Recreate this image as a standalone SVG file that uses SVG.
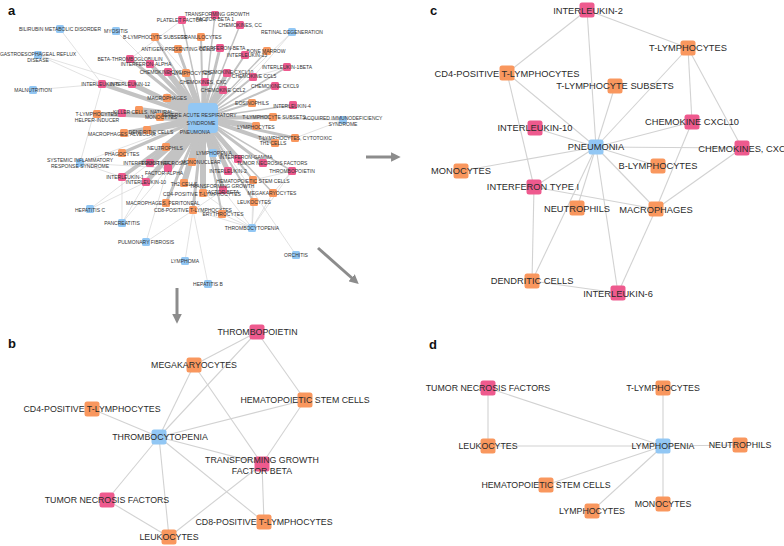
<svg xmlns="http://www.w3.org/2000/svg" width="784" height="546" viewBox="0 0 784 546">
<defs>
<style>
.bg{fill:#ffffff}
.o{fill:#F9975E}
.p{fill:#EE5A8E}
.b{fill:#92C7F4}
.e{stroke:#d2d2d2;stroke-width:1.1;fill:none}
.ea{stroke:#d6d6d6;stroke-width:0.7;fill:none}
.et{stroke:#c3c3c3;fill:none;stroke-linecap:round}
.tc{font-family:"Liberation Sans",Arial,sans-serif;font-size:9.3px;fill:#2a2a2a;text-anchor:middle}
.tb{font-family:"Liberation Sans",Arial,sans-serif;font-size:8.8px;fill:#2a2a2a;text-anchor:middle}
.ta{font-family:"Liberation Sans",Arial,sans-serif;font-size:5px;fill:#333;text-anchor:middle}
.lbl{font-family:"Liberation Sans",Arial,sans-serif;font-size:13px;font-weight:bold;fill:#111}
.arr{stroke:#8c8c8c;stroke-width:3;fill:none}
</style>
<marker id="ah" viewBox="0 0 10 10" refX="2" refY="5" markerWidth="3.2" markerHeight="3.2" orient="auto">
<path d="M0,0 L10,5 L0,10 z" fill="#8c8c8c"/>
</marker>
</defs>
<rect class="bg" x="0" y="0" width="784" height="546"/>

<text class="lbl" x="8" y="15">a</text>
<text class="lbl" x="8" y="348">b</text>
<text class="lbl" x="430" y="15">c</text>
<text class="lbl" x="429" y="349">d</text>

<g id="arrows">
<line class="arr" x1="366" y1="157" x2="393" y2="157" marker-end="url(#ah)"/>
<line class="arr" x1="177" y1="288" x2="177" y2="316" marker-end="url(#ah)"/>
<line class="arr" x1="318" y1="248" x2="353" y2="279" marker-end="url(#ah)"/>
</g>

<!-- PANEL A -->
<g id="connectors-a">
<g class="ea">
<line x1="60" y1="29" x2="102" y2="84"/>
<line x1="38" y1="55" x2="102" y2="84"/>
<line x1="38" y1="55" x2="132" y2="84"/>
<line x1="33" y1="90" x2="102" y2="84"/>
<line x1="116" y1="31" x2="203" y2="118"/>
<line x1="292" y1="32" x2="203" y2="118"/>
<line x1="292" y1="32" x2="253" y2="77"/>
<line x1="343" y1="120" x2="203" y2="118"/>
<line x1="343" y1="120" x2="295" y2="138"/>
<line x1="343" y1="120" x2="273" y2="117"/>
<line x1="80" y1="163" x2="122" y2="177"/>
<line x1="80" y1="163" x2="102" y2="84"/>
<line x1="80" y1="163" x2="168" y2="168"/>
<line x1="80" y1="163" x2="203" y2="118"/>
<line x1="90" y1="209" x2="146" y2="182"/>
<line x1="90" y1="209" x2="150" y2="163"/>
<line x1="122" y1="223" x2="168" y2="168"/>
<line x1="122" y1="223" x2="146" y2="182"/>
<line x1="122" y1="223" x2="122" y2="177"/>
<line x1="146" y1="242" x2="168" y2="168"/>
<line x1="146" y1="242" x2="223" y2="190"/>
<line x1="185" y1="261" x2="193" y2="210"/>
<line x1="208" y1="284" x2="193" y2="210"/>
<line x1="252" y1="228" x2="254" y2="202"/>
<line x1="252" y1="228" x2="273" y2="193"/>
<line x1="252" y1="228" x2="223" y2="190"/>
<line x1="252" y1="228" x2="253" y2="180"/>
<line x1="252" y1="228" x2="292" y2="171"/>
<line x1="252" y1="228" x2="193" y2="210"/>
<line x1="252" y1="228" x2="203" y2="193"/>
<line x1="252" y1="228" x2="222" y2="214"/>
<line x1="296" y1="255" x2="203" y2="118"/>
<line x1="292" y1="171" x2="273" y2="193"/>
<line x1="292" y1="171" x2="253" y2="180"/>
<line x1="102" y1="84" x2="132" y2="84"/>
<line x1="130" y1="59" x2="182" y2="20"/>
<line x1="155" y1="37" x2="186" y2="73"/>
<line x1="287" y1="67" x2="253" y2="77"/>
</g>
<g class="et">
<line x1="203" y1="118" x2="168" y2="72" stroke-width="6"/>
<line x1="203" y1="118" x2="150" y2="64" stroke-width="4"/>
<line x1="203" y1="118" x2="130" y2="59" stroke-width="3"/>
<line x1="203" y1="118" x2="132" y2="84" stroke-width="5"/>
<line x1="203" y1="118" x2="102" y2="84" stroke-width="4"/>
<line x1="203" y1="118" x2="167" y2="98" stroke-width="9"/>
<line x1="203" y1="118" x2="139" y2="110" stroke-width="6"/>
<line x1="203" y1="118" x2="97" y2="114" stroke-width="4"/>
<line x1="203" y1="118" x2="122" y2="113" stroke-width="4"/>
<line x1="203" y1="118" x2="160" y2="117" stroke-width="7"/>
<line x1="203" y1="118" x2="124" y2="133" stroke-width="4"/>
<line x1="203" y1="118" x2="147" y2="130" stroke-width="7"/>
<line x1="203" y1="118" x2="166" y2="147" stroke-width="8"/>
<line x1="203" y1="118" x2="122" y2="153" stroke-width="3"/>
<line x1="203" y1="118" x2="150" y2="163" stroke-width="6"/>
<line x1="203" y1="118" x2="168" y2="168" stroke-width="9"/>
<line x1="203" y1="118" x2="122" y2="177" stroke-width="4"/>
<line x1="203" y1="118" x2="146" y2="182" stroke-width="5"/>
<line x1="203" y1="118" x2="184" y2="183" stroke-width="6"/>
<line x1="203" y1="118" x2="203" y2="193" stroke-width="6"/>
<line x1="203" y1="118" x2="192" y2="162" stroke-width="8"/>
<line x1="203" y1="118" x2="213" y2="153" stroke-width="7"/>
<line x1="203" y1="118" x2="228" y2="171" stroke-width="5"/>
<line x1="203" y1="118" x2="238" y2="159" stroke-width="5"/>
<line x1="203" y1="118" x2="223" y2="190" stroke-width="4"/>
<line x1="203" y1="118" x2="186" y2="73" stroke-width="6"/>
<line x1="203" y1="118" x2="205" y2="82" stroke-width="5"/>
<line x1="203" y1="118" x2="223" y2="90" stroke-width="5"/>
<line x1="203" y1="118" x2="227" y2="73" stroke-width="4"/>
<line x1="203" y1="118" x2="178" y2="49" stroke-width="3"/>
<line x1="203" y1="118" x2="220" y2="48" stroke-width="3"/>
<line x1="203" y1="118" x2="201" y2="37" stroke-width="2"/>
<line x1="203" y1="118" x2="273" y2="117" stroke-width="4"/>
<line x1="203" y1="118" x2="256" y2="126" stroke-width="5"/>
<line x1="203" y1="118" x2="295" y2="138" stroke-width="3"/>
<line x1="203" y1="118" x2="275" y2="143" stroke-width="4"/>
<line x1="203" y1="118" x2="263" y2="163" stroke-width="3"/>
<line x1="203" y1="118" x2="193" y2="210" stroke-width="3"/>
<line x1="203" y1="118" x2="166" y2="203" stroke-width="3"/>
<line x1="203" y1="118" x2="252" y2="103" stroke-width="2"/>
<line x1="203" y1="118" x2="293" y2="105" stroke-width="1.5"/>
<line x1="203" y1="118" x2="253" y2="77" stroke-width="2"/>
<line x1="203" y1="118" x2="275" y2="86" stroke-width="2"/>
<line x1="203" y1="118" x2="245" y2="55" stroke-width="2"/>
<line x1="203" y1="118" x2="287" y2="67" stroke-width="1.5"/>
<line x1="203" y1="118" x2="182" y2="20" stroke-width="1.5"/>
<line x1="203" y1="118" x2="215" y2="15" stroke-width="1.5"/>
<line x1="203" y1="118" x2="240" y2="25" stroke-width="1.5"/>
<line x1="203" y1="118" x2="267" y2="51" stroke-width="1.5"/>
<line x1="203" y1="118" x2="155" y2="37" stroke-width="2"/>
<line x1="203" y1="118" x2="254" y2="202" stroke-width="2"/>
<line x1="203" y1="118" x2="253" y2="180" stroke-width="2"/>
<line x1="203" y1="118" x2="292" y2="171" stroke-width="1.5"/>
<line x1="203" y1="118" x2="273" y2="193" stroke-width="1.5"/>
<line x1="203" y1="118" x2="222" y2="214" stroke-width="2"/>
</g>
</g>

<g id="nodes-a">
<g id="a-bilirubin"><rect class="b" x="56" y="25" width="8" height="8" rx="1.5"/><text class="ta" x="60" y="30.8">BILIRUBIN METABOLIC DISORDER</text></g>
<g id="a-myositis"><rect class="b" x="112" y="27" width="8" height="8" rx="1.5"/><text class="ta" x="116" y="32.8">MYOSITIS</text></g>
<g id="a-gerd"><rect class="b" x="34" y="51" width="8" height="8" rx="1.5"/><text class="ta" x="38" y="55.8">GASTROESOPHAGEAL REFLUX</text><text class="ta" x="38" y="62.3">DISEASE</text></g>
<g id="a-malnutrition"><rect class="b" x="29" y="86" width="8" height="8" rx="1.5"/><text class="ta" x="33" y="91.8">MALNUTRITION</text></g>
<g id="a-bls"><rect class="o" x="151" y="33" width="8" height="8" rx="1.5"/><text class="ta" x="155" y="38.8">B-LYMPHOCYTE SUBSETS</text></g>
<g id="a-pf4"><rect class="p" x="178" y="16" width="8" height="8" rx="1.5"/><text class="ta" x="182" y="21.8">PLATELET FACTOR 4</text></g>
<g id="a-tgfb1"><rect class="p" x="211" y="11" width="8" height="8" rx="1.5"/><text class="ta" x="217" y="15.8">TRANSFORMING GROWTH</text><text class="ta" x="215" y="21.3">FACTOR BETA 1</text></g>
<g id="a-chemcc"><rect class="p" x="236" y="21" width="8" height="8" rx="1.5"/><text class="ta" x="240" y="26.8">CHEMOKINES, CC</text></g>
<g id="a-retinal"><rect class="b" x="288" y="28" width="8" height="8" rx="1.5"/><text class="ta" x="292" y="33.8">RETINAL DEGENERATION</text></g>
<g id="a-gran"><rect class="o" x="197" y="33" width="8" height="8" rx="1.5"/><text class="ta" x="201" y="38.8">GRANULOCYTES</text></g>
<g id="a-apc"><rect class="o" x="174" y="45" width="8" height="8" rx="1.5"/><text class="ta" x="178" y="50.8">ANTIGEN-PRESENTING CELLS</text></g>
<g id="a-ifnb"><rect class="p" x="216" y="44" width="8" height="8" rx="1.5"/><text class="ta" x="222" y="49.8">INTERFERON-BETA</text></g>
<g id="a-bm"><rect class="o" x="263" y="47" width="8" height="8" rx="1.5"/><text class="ta" x="266" y="52.8">BONE MARROW</text></g>
<g id="a-il13"><rect class="p" x="241" y="51" width="8" height="8" rx="1.5"/><text class="ta" x="247" y="56.8">INTERLEUKIN-13</text></g>
<g id="a-il1b"><rect class="p" x="283" y="63" width="8" height="8" rx="1.5"/><text class="ta" x="287" y="68.8">INTERLEUKIN-1BETA</text></g>
<g id="a-btg"><rect class="p" x="126" y="55" width="8" height="8" rx="1.5"/><text class="ta" x="130" y="60.8">BETA-THROMBOGLOBULIN</text></g>
<g id="a-ifna"><rect class="p" x="146" y="60" width="8" height="8" rx="1.5"/><text class="ta" x="146" y="65.8">INTERFERON-ALPHA</text></g>
<g id="a-cxcl12"><rect class="p" x="164" y="68" width="8" height="8" rx="1.5"/><text class="ta" x="165" y="73.8">CHEMOKINE CXCL12</text></g>
<g id="a-tly"><rect class="o" x="182" y="69" width="8" height="8" rx="1.5"/><text class="ta" x="190" y="74.8">T-LYMPHOCYTES</text></g>
<g id="a-cxcl10"><rect class="p" x="223" y="69" width="8" height="8" rx="1.5"/><text class="ta" x="228" y="74.3">CHEMOKINE CXCL10</text></g>
<g id="a-ccl5"><rect class="p" x="249" y="73" width="8" height="8" rx="1.5"/><text class="ta" x="254" y="78.3">CHEMOKINE CCL5</text></g>
<g id="a-cxc"><rect class="p" x="201" y="78" width="8" height="8" rx="1.5"/><text class="ta" x="203" y="84.1">CHEMOKINES, CXC</text></g>
<g id="a-ccl2"><rect class="p" x="219" y="86" width="8" height="8" rx="1.5"/><text class="ta" x="223" y="91.8">CHEMOKINE CCL2</text></g>
<g id="a-cxcl9"><rect class="p" x="271" y="82" width="8" height="8" rx="1.5"/><text class="ta" x="275" y="87.8">CHEMOKINE CXCL9</text></g>
<g id="a-il6"><rect class="p" x="98" y="80" width="8" height="8" rx="1.5"/><text class="ta" x="100" y="86.1">INTERLEUKIN-6</text></g>
<g id="a-il12"><rect class="p" x="128" y="80" width="8" height="8" rx="1.5"/><text class="ta" x="130" y="86.1">INTERLEUKIN-12</text></g>
<g id="a-mac"><rect class="o" x="163" y="94" width="8" height="8" rx="1.5"/><text class="ta" x="167" y="99.8">MACROPHAGES</text></g>
<g id="a-eos"><rect class="o" x="248" y="99" width="8" height="8" rx="1.5"/><text class="ta" x="252" y="105">EOSINOPHILS</text></g>
<g id="a-il4"><rect class="p" x="289" y="101" width="8" height="8" rx="1.5"/><text class="ta" x="292" y="107.8">INTERLEUKIN-4</text></g>
<g id="a-tls"><rect class="o" x="269" y="113" width="8" height="8" rx="1.5"/><text class="ta" x="274" y="118.5">T-LYMPHOCYTE SUBSETS</text></g>
<g id="a-lym"><rect class="o" x="252" y="122" width="8" height="8" rx="1.5"/><text class="ta" x="256" y="128.5">LYMPHOCYTES</text></g>
<g id="a-aids"><rect class="b" x="339" y="116" width="8" height="8" rx="1.5"/><text class="ta" x="343" y="119.8">ACQUIRED IMMUNODEFICIENCY</text><text class="ta" x="343" y="126">SYNDROME</text></g>
<g id="a-tlh"><rect class="o" x="93" y="110" width="8" height="8" rx="1.5"/><text class="ta" x="97" y="116">T-LYMPHOCYTES,</text><text class="ta" x="97" y="121.8">HELPER-INDUCER</text></g>
<g id="a-pk1"><rect class="p" x="118" y="109" width="8" height="8" rx="1.5"/></g>
<g id="a-nk"><rect class="o" x="135" y="106" width="8" height="8" rx="1.5"/><text class="ta" x="143" y="113.5">KILLER CELLS, NATURAL</text></g>
<g id="a-mono"><rect class="o" x="156" y="113" width="8" height="8" rx="1.5"/><text class="ta" x="161" y="119.1">MONOCYTES</text></g>
<g id="a-alv"><rect class="o" x="120" y="129" width="8" height="8" rx="1.5"/><text class="ta" x="122" y="135.8">MACROPHAGES, ALVEOLAR</text></g>
<g id="a-dc"><rect class="o" x="143" y="126" width="8" height="8" rx="1.5"/><text class="ta" x="151" y="133.5">DENDRITIC CELLS</text></g>
<g id="a-tcyt"><rect class="o" x="291" y="134" width="8" height="8" rx="1.5"/><text class="ta" x="295" y="140.1">T-LYMPHOCYTES, CYTOTOXIC</text></g>
<g id="a-th1"><rect class="o" x="271" y="139" width="8" height="8" rx="1.5"/><text class="ta" x="273" y="145.1">TH1 CELLS</text></g>
<g id="a-neu"><rect class="o" x="162" y="143" width="8" height="8" rx="1.5"/><text class="ta" x="165" y="150">NEUTROPHILS</text></g>
<g id="a-phag"><rect class="o" x="118" y="149" width="8" height="8" rx="1.5"/><text class="ta" x="122" y="155.6">PHAGOCYTES</text></g>
<g id="a-sirs"><rect class="b" x="76" y="159" width="8" height="8" rx="1.5"/><text class="ta" x="80" y="161.8">SYSTEMIC INFLAMMATORY</text><text class="ta" x="80" y="167.8">RESPONSE SYNDROME</text></g>
<g id="a-lp"><rect class="b" x="209" y="149" width="8" height="8" rx="1.5"/><text class="ta" x="214" y="155.1">LYMPHOPENIA</text></g>
<g id="a-ifng"><rect class="p" x="234" y="155" width="8" height="8" rx="1.5"/><text class="ta" x="246" y="159.1">INTERFERON-GAMMA</text></g>
<g id="a-ifn1"><rect class="p" x="146" y="159" width="8" height="8" rx="1.5"/><text class="ta" x="148" y="165">INTERFERON TYPE I</text></g>
<g id="a-tnfa"><rect class="p" x="164" y="164" width="8" height="8" rx="1.5"/><text class="ta" x="164" y="164.5">TUMOR NECROSIS</text><text class="ta" x="164" y="174.5">FACTOR-ALPHA</text></g>
<g id="a-mn"><rect class="o" x="188" y="158" width="8" height="8" rx="1.5"/><text class="ta" x="201" y="164.1">MONONUCLEAR</text></g>
<g id="a-tnf"><rect class="p" x="259" y="159" width="8" height="8" rx="1.5"/><text class="ta" x="272" y="165.1">TUMOR NECROSIS FACTORS</text></g>
<g id="a-tpo"><rect class="p" x="288" y="167" width="8" height="8" rx="1.5"/><text class="ta" x="292" y="172.8">THROMBOPOIETIN</text></g>
<g id="a-il2"><rect class="p" x="224" y="167" width="8" height="8" rx="1.5"/><text class="ta" x="228" y="172.8">INTERLEUKIN-2</text></g>
<g id="a-il1"><rect class="p" x="118" y="173" width="8" height="8" rx="1.5"/><text class="ta" x="125" y="178.8">INTERLEUKIN-1</text></g>
<g id="a-il10"><rect class="p" x="142" y="178" width="8" height="8" rx="1.5"/><text class="ta" x="146" y="183.8">INTERLEUKIN-10</text></g>
<g id="a-th2"><rect class="o" x="180" y="179" width="8" height="8" rx="1.5"/><text class="ta" x="184" y="185.6">TH2 CELLS</text></g>
<g id="a-hsc"><rect class="o" x="249" y="176" width="8" height="8" rx="1.5"/><text class="ta" x="253" y="182.5">HEMATOPOIETIC STEM CELLS</text></g>
<g id="a-tgf"><rect class="p" x="219" y="186" width="8" height="8" rx="1.5"/><text class="ta" x="222" y="188">TRANSFORMING GROWTH</text><text class="ta" x="222" y="193.6">FACTOR BETA</text></g>
<g id="a-mk"><rect class="o" x="269" y="189" width="8" height="8" rx="1.5"/><text class="ta" x="272" y="194.8">MEGAKARYOCYTES</text></g>
<g id="a-cd4"><rect class="o" x="199" y="189" width="8" height="8" rx="1.5"/><text class="ta" x="202" y="195.8">CD4-POSITIVE T-LYMPHOCYTES</text></g>
<g id="a-leu"><rect class="o" x="250" y="198" width="8" height="8" rx="1.5"/><text class="ta" x="254" y="203.8">LEUKOCYTES</text></g>
<g id="a-perit"><rect class="o" x="162" y="199" width="8" height="8" rx="1.5"/><text class="ta" x="163" y="204.8">MACROPHAGES, PERITONEAL</text></g>
<g id="a-cd8"><rect class="o" x="189" y="206" width="8" height="8" rx="1.5"/><text class="ta" x="193" y="211.8">CD8-POSITIVE T-LYMPHOCYTES</text></g>
<g id="a-ery"><rect class="o" x="218" y="210" width="8" height="8" rx="1.5"/><text class="ta" x="223" y="215.8">ERYTHROCYTES</text></g>
<g id="a-hepc"><rect class="b" x="86" y="205" width="8" height="8" rx="1.5"/><text class="ta" x="90" y="211.5">HEPATITIS C</text></g>
<g id="a-panc"><rect class="b" x="118" y="219" width="8" height="8" rx="1.5"/><text class="ta" x="122" y="224.8">PANCREATITIS</text></g>
<g id="a-pf"><rect class="b" x="142" y="238" width="8" height="8" rx="1.5"/><text class="ta" x="146" y="243.8">PULMONARY FIBROSIS</text></g>
<g id="a-tcp"><rect class="b" x="248" y="224" width="8" height="8" rx="1.5"/><text class="ta" x="252" y="230.3">THROMBOCYTOPENIA</text></g>
<g id="a-lymphoma"><rect class="b" x="181" y="257" width="8" height="8" rx="1.5"/><text class="ta" x="185" y="262.8">LYMPHOMA</text></g>
<g id="a-hepb"><rect class="b" x="204" y="280" width="8" height="8" rx="1.5"/><text class="ta" x="208" y="285.8">HEPATITIS B</text></g>
<g id="a-orchitis"><rect class="b" x="292" y="251" width="8" height="8" rx="1.5"/><text class="ta" x="296" y="256.8">ORCHITIS</text></g>
<g id="a-sars"><rect class="b" x="188" y="103" width="30" height="30" rx="4"/><text class="ta" x="199" y="117">SEVERE ACUTE RESPIRATORY</text><text class="ta" x="201" y="124.5">SYNDROME</text><text class="ta" x="195" y="134">PNEUMONIA</text></g>
</g>

<!-- PANEL B -->
<g id="connectors-b" class="e">
<line x1="257" y1="332" x2="194" y2="365"/>
<line x1="257" y1="332" x2="159" y2="437"/>
<line x1="257" y1="332" x2="305" y2="400"/>
<line x1="194" y1="365" x2="159" y2="437"/>
<line x1="194" y1="365" x2="262" y2="464"/>
<line x1="305" y1="400" x2="159" y2="437"/>
<line x1="305" y1="400" x2="262" y2="464"/>
<line x1="92" y1="409" x2="159" y2="437"/>
<line x1="159" y1="437" x2="262" y2="464"/>
<line x1="159" y1="437" x2="107" y2="500"/>
<line x1="159" y1="437" x2="169" y2="537"/>
<line x1="159" y1="437" x2="264" y2="522"/>
<line x1="107" y1="500" x2="169" y2="537"/>
<line x1="262" y1="464" x2="169" y2="537"/>
<line x1="262" y1="464" x2="264" y2="522"/>
</g>
<g id="nodes-b">
<g id="b-tpo"><rect class="p" x="249.5" y="324.5" width="15" height="15" rx="2.5"/><text class="tb" x="257.5" y="335.3">THROMBOPOIETIN</text></g>
<g id="b-mk"><rect class="o" x="186.5" y="357.5" width="15" height="15" rx="2.5"/><text class="tb" x="194" y="368.3">MEGAKARYOCYTES</text></g>
<g id="b-hsc"><rect class="o" x="297.5" y="392.5" width="15" height="15" rx="2.5"/><text class="tb" x="305" y="403.3">HEMATOPOIETIC STEM CELLS</text></g>
<g id="b-cd4"><rect class="o" x="84.5" y="401.5" width="15" height="15" rx="2.5"/><text class="tb" x="92" y="412.3">CD4-POSITIVE T-LYMPHOCYTES</text></g>
<g id="b-tcp"><rect class="b" x="151.5" y="429.5" width="15" height="15" rx="2.5"/><text class="tb" x="160" y="440.3">THROMBOCYTOPENIA</text></g>
<g id="b-tgf"><rect class="p" x="254.5" y="456.5" width="15" height="15" rx="2.5"/><text class="tb" x="262" y="462.5">TRANSFORMING GROWTH</text><text class="tb" x="262" y="474">FACTOR BETA</text></g>
<g id="b-tnf"><rect class="p" x="99.5" y="492.5" width="15" height="15" rx="2.5"/><text class="tb" x="107" y="503.3">TUMOR NECROSIS FACTORS</text></g>
<g id="b-cd8"><rect class="o" x="256.5" y="514.5" width="15" height="15" rx="2.5"/><text class="tb" x="264" y="525.3">CD8-POSITIVE T-LYMPHOCYTES</text></g>
<g id="b-leu"><rect class="o" x="161.5" y="529.5" width="15" height="15" rx="2.5"/><text class="tb" x="169" y="540.3">LEUKOCYTES</text></g>
</g>

<!-- PANEL C -->
<g id="connectors-c" class="e">
<line x1="587" y1="10" x2="507" y2="73"/>
<line x1="587" y1="10" x2="688" y2="48"/>
<line x1="587" y1="10" x2="596" y2="147"/>
<line x1="688" y1="48" x2="596" y2="147"/>
<line x1="688" y1="48" x2="692" y2="122"/>
<line x1="688" y1="48" x2="742" y2="148"/>
<line x1="507" y1="73" x2="596" y2="147"/>
<line x1="507" y1="73" x2="534" y2="187"/>
<line x1="615" y1="86" x2="596" y2="147"/>
<line x1="535" y1="128" x2="596" y2="147"/>
<line x1="692" y1="122" x2="596" y2="147"/>
<line x1="692" y1="122" x2="656" y2="209"/>
<line x1="596" y1="147" x2="742" y2="148"/>
<line x1="596" y1="147" x2="658" y2="166"/>
<line x1="596" y1="147" x2="461" y2="171"/>
<line x1="596" y1="147" x2="534" y2="187"/>
<line x1="596" y1="147" x2="577" y2="208"/>
<line x1="596" y1="147" x2="532" y2="281"/>
<line x1="596" y1="147" x2="618" y2="293"/>
<line x1="596" y1="147" x2="656" y2="209"/>
<line x1="534" y1="187" x2="656" y2="209"/>
<line x1="534" y1="187" x2="532" y2="281"/>
<line x1="742" y1="148" x2="656" y2="209"/>
<line x1="656" y1="209" x2="618" y2="293"/>
<line x1="532" y1="281" x2="618" y2="293"/>
</g>
<g id="nodes-c">
<g id="c-il2"><rect class="p" x="579.5" y="2.5" width="15" height="15" rx="2.5"/><text class="tc" x="588" y="13.5">INTERLEUKIN-2</text></g>
<g id="c-tl"><rect class="o" x="680.5" y="40.5" width="15" height="15" rx="2.5"/><text class="tc" x="688" y="51.3">T-LYMPHOCYTES</text></g>
<g id="c-cd4"><rect class="o" x="499.5" y="65.5" width="15" height="15" rx="2.5"/><text class="tc" x="507" y="76.5">CD4-POSITIVE T-LYMPHOCYTES</text></g>
<g id="c-tls"><rect class="o" x="607.5" y="78.5" width="15" height="15" rx="2.5"/><text class="tc" x="615" y="89">T-LYMPHOCYTE SUBSETS</text></g>
<g id="c-il10"><rect class="p" x="527.5" y="120.5" width="15" height="15" rx="2.5"/><text class="tc" x="535" y="131">INTERLEUKIN-10</text></g>
<g id="c-cxcl10"><rect class="p" x="684.5" y="114.5" width="15" height="15" rx="2.5"/><text class="tc" x="692" y="125">CHEMOKINE CXCL10</text></g>
<g id="c-pn"><rect class="b" x="588.5" y="139.5" width="15" height="15" rx="2.5"/><text class="tc" x="596" y="150">PNEUMONIA</text></g>
<g id="c-cxc"><rect class="p" x="734.5" y="140.5" width="15" height="15" rx="2.5"/><text class="tc" x="742" y="151.5">CHEMOKINES, CXC</text></g>
<g id="c-bl"><rect class="o" x="650.5" y="158.5" width="15" height="15" rx="2.5"/><text class="tc" x="658" y="169">B-LYMPHOCYTES</text></g>
<g id="c-mo"><rect class="o" x="453.5" y="163.5" width="15" height="15" rx="2.5"/><text class="tc" x="461" y="174.3">MONOCYTES</text></g>
<g id="c-ifn"><rect class="p" x="526.5" y="179.5" width="15" height="15" rx="2.5"/><text class="tc" x="533" y="190">INTERFERON TYPE I</text></g>
<g id="c-ne"><rect class="o" x="569.5" y="200.5" width="15" height="15" rx="2.5"/><text class="tc" x="577" y="211.5">NEUTROPHILS</text></g>
<g id="c-ma"><rect class="o" x="648.5" y="201.5" width="15" height="15" rx="2.5"/><text class="tc" x="656" y="212.5">MACROPHAGES</text></g>
<g id="c-dc"><rect class="o" x="524.5" y="273.5" width="15" height="15" rx="2.5"/><text class="tc" x="532" y="284.3">DENDRITIC CELLS</text></g>
<g id="c-il6"><rect class="p" x="610.5" y="285.5" width="15" height="15" rx="2.5"/><text class="tc" x="618" y="296.5">INTERLEUKIN-6</text></g>
</g>

<!-- PANEL D -->
<g id="connectors-d" class="e">
<line x1="488" y1="388" x2="488" y2="446"/>
<line x1="488" y1="388" x2="663" y2="446"/>
<line x1="663" y1="388" x2="663" y2="446"/>
<line x1="488" y1="446" x2="663" y2="446"/>
<line x1="663" y1="446" x2="740" y2="445"/>
<line x1="663" y1="446" x2="546" y2="485"/>
<line x1="663" y1="446" x2="592" y2="511"/>
<line x1="663" y1="446" x2="663" y2="504"/>
</g>
<g id="nodes-d">
<g id="d-tnf"><rect class="p" x="480.5" y="380.5" width="15" height="15" rx="2.5"/><text class="tb" x="488" y="391.3">TUMOR NECROSIS FACTORS</text></g>
<g id="d-tl"><rect class="o" x="655.5" y="380.5" width="15" height="15" rx="2.5"/><text class="tb" x="663" y="391.3">T-LYMPHOCYTES</text></g>
<g id="d-leu"><rect class="o" x="480.5" y="438.5" width="15" height="15" rx="2.5"/><text class="tb" x="488" y="449.3">LEUKOCYTES</text></g>
<g id="d-lp"><rect class="b" x="655.5" y="438.5" width="15" height="15" rx="2.5"/><text class="tb" x="663" y="449.3">LYMPHOPENIA</text></g>
<g id="d-ne"><rect class="o" x="732.5" y="437.5" width="15" height="15" rx="2.5"/><text class="tb" x="740" y="448.3">NEUTROPHILS</text></g>
<g id="d-hsc"><rect class="o" x="538.5" y="477.5" width="15" height="15" rx="2.5"/><text class="tb" x="546" y="488">HEMATOPOIETIC STEM CELLS</text></g>
<g id="d-mo"><rect class="o" x="655.5" y="496.5" width="15" height="15" rx="2.5"/><text class="tb" x="663" y="507.3">MONOCYTES</text></g>
<g id="d-ly"><rect class="o" x="584.5" y="503.5" width="15" height="15" rx="2.5"/><text class="tb" x="592" y="514.3">LYMPHOCYTES</text></g>
</g>
</svg>
